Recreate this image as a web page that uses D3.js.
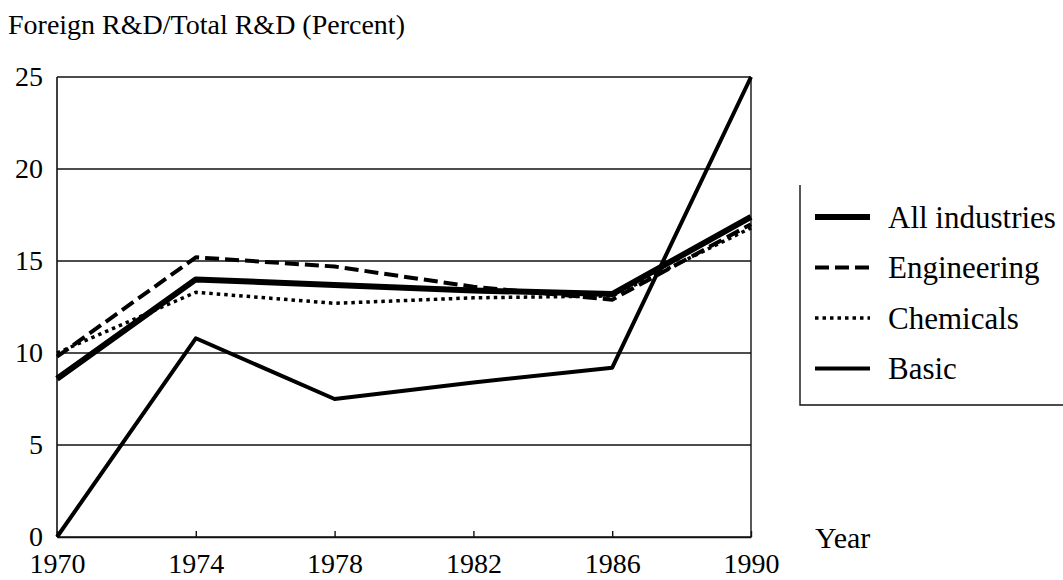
<!DOCTYPE html>
<html>
<head>
<meta charset="utf-8">
<script src="https://cdn.jsdelivr.net/npm/d3@7"></script>
<style>
  body { margin: 0; background: #fff; }
  text { font-family: "Liberation Serif", "DejaVu Serif", serif; fill: #000; }
</style>
</head>
<body>
<svg></svg>
<script>
const years = [1970, 1974, 1978, 1982, 1986, 1990]
const yTicks = [0, 5, 10, 15, 20, 25]
const xTicks = [1970, 1974, 1978, 1982, 1986, 1990]

// percent values
const allIndustries = [8.6, 14.0, 13.7, 13.4, 13.2, 17.4]
const engineering = [9.8, 15.2, 14.7, 13.6, 12.9, 17.0]
const chemicals = [10.0, 13.3, 12.7, 13.0, 13.1, 16.8]
const basic = [0, 10.8, 7.5, 8.4, 9.2, 25]

const seriesNames = ['All industries', 'Engineering', 'Chemicals', 'Basic']
const seriesValues = [allIndustries, engineering, chemicals, basic]

let width = 1063
let height = 580
let plotLeft = 57
let plotRight = 751
let plotTop = 77
let plotBottom = 537

// line styles per series
let styles = [
  { w: 6, dash: null },
  { w: 4, dash: '14,6' },
  { w: 3.5, dash: '3.5,4' },
  { w: 4, dash: null }
]

let xScale = d3.scaleLinear().domain([1970, 1990]).range([plotLeft, plotRight])
let yScale = d3.scaleLinear().domain([0, 25]).range([plotBottom, plotTop])

let svg = d3.select('svg')
    .attr('width', width)
    .attr('height', height)

// horizontal grid
svg.append('g')
  .selectAll('line')
  .data(yTicks)
  .enter()
  .append('line')
    .attr('x1', plotLeft)
    .attr('x2', plotRight)
    .attr('y1', d => yScale(d))
    .attr('y2', d => yScale(d))
    .attr('stroke', '#111')
    .attr('stroke-width', 1.4)

// frame sides
svg.append('line')
    .attr('x1', plotLeft).attr('x2', plotLeft)
    .attr('y1', plotTop).attr('y2', plotBottom)
    .attr('stroke', '#111').attr('stroke-width', 1.6)
svg.append('line')
    .attr('x1', plotRight).attr('x2', plotRight)
    .attr('y1', plotTop).attr('y2', plotBottom)
    .attr('stroke', '#111').attr('stroke-width', 1.4)

// x axis: small inward ticks + labels
let xAxis = d3.axisBottom(xScale)
              .tickValues(xTicks)
              .tickFormat(d3.format('d'))
              .tickSize(-6)
              .tickSizeOuter(0)

let gx = svg.append('g')
    .attr('transform', `translate(0, ${plotBottom})`)
    .call(xAxis)
gx.select('.domain').attr('stroke', '#111').attr('stroke-width', 1.6)
gx.selectAll('.tick line').attr('stroke', '#111').attr('stroke-width', 1.4)
gx.selectAll('text')
    .attr('y', 36)
    .attr('dy', 0)
    .style('font-size', '28px')
    .style('font-family', '"Liberation Serif", serif')
    .attr('fill', '#000')

// y axis labels
let yAxis = d3.axisLeft(yScale)
              .tickValues(yTicks)
              .tickSize(0)
              .tickPadding(14)

let gy = svg.append('g')
    .attr('transform', `translate(${plotLeft}, 0)`)
    .call(yAxis)
gy.select('.domain').remove()
gy.selectAll('text')
    .style('font-size', '28px')
    .style('font-family', '"Liberation Serif", serif')
    .attr('fill', '#000')

// lines
let line = d3.line()
    .x((d, i) => xScale(years[i]))
    .y(d => yScale(d))

svg.append('g')
  .selectAll('path')
  .data(seriesValues)
  .enter()
  .append('path')
    .attr('d', d => line(d))
    .attr('fill', 'none')
    .attr('stroke', '#000')
    .attr('stroke-width', (d, i) => styles[i].w)
    .attr('stroke-dasharray', (d, i) => styles[i].dash)
    .attr('stroke-linejoin', 'round')

// title
svg.append('text')
    .attr('x', 8)
    .attr('y', 34)
    .style('font-size', '28px')
    .text('Foreign R&D/Total R&D (Percent)')

// x label
svg.append('text')
    .attr('x', 815)
    .attr('y', 548)
    .style('font-size', '30px')
    .text('Year')

// legend box (left & bottom edges visible)
let lg = svg.append('g')
svg.append('path')
    .attr('d', 'M800,185 L800,405 L1063,405')
    .attr('fill', 'none')
    .attr('stroke', '#111')
    .attr('stroke-width', 1.4)

let rows = lg.selectAll('g')
  .data(seriesNames)
  .enter()
  .append('g')
    .attr('transform', (d, i) => `translate(815, ${217 + i * 50.5})`)

rows.append('line')
    .attr('x1', 0).attr('x2', 55)
    .attr('stroke', '#000')
    .attr('stroke-width', (d, i) => styles[i].w)
    .attr('stroke-dasharray', (d, i) => styles[i].dash)

rows.append('text')
    .attr('x', 73)
    .attr('dy', '0.35em')
    .style('font-size', '31px')
    .text(d => d)
</script>
</body>
</html>
